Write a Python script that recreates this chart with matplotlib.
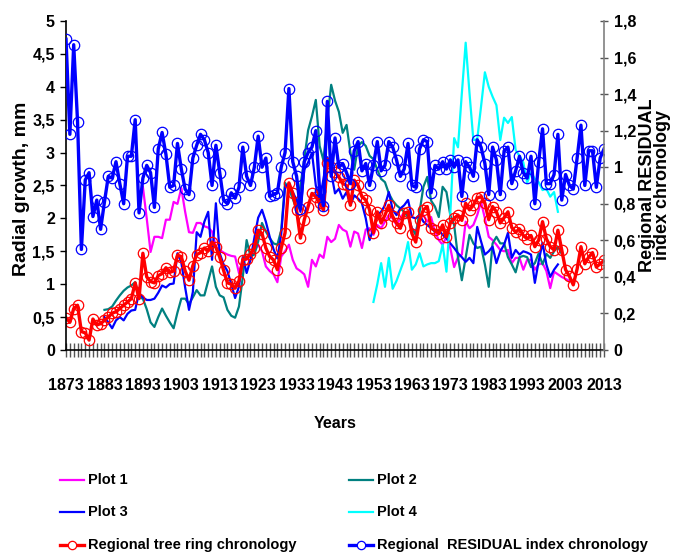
import numpy as np
import matplotlib
matplotlib.use('Agg')
import matplotlib.pyplot as plt
from matplotlib.lines import Line2D

# Years on the category axis
years = np.arange(1873, 2014)
first_year = 1873

# Regional RESIDUAL index chronology (right axis), 1873-2013
residual = [
    1.70, 1.18, 1.67, 1.25, 0.55, 0.93, 0.97, 0.73, 0.82, 0.66,  # 1873
    0.81, 0.95, 0.94, 1.03, 0.91, 0.80, 1.06, 1.06, 1.26, 0.75,  # 1883
    0.94, 1.01, 0.97, 0.78, 1.10, 1.19, 1.07, 0.89, 0.90, 1.13,  # 1893
    0.99, 0.88, 0.85, 1.05, 1.12, 1.18, 1.15, 1.08, 0.90, 1.12,  # 1903
    0.97, 0.82, 0.80, 0.86, 0.83, 0.89, 1.11, 0.95, 0.90, 1.00,  # 1913
    1.17, 1.00, 1.05, 0.84, 0.85, 0.86, 1.00, 1.08, 1.43, 1.03,  # 1923
    0.95, 0.77, 1.03, 1.08, 1.11, 1.20, 0.87, 0.79, 1.36, 0.95,  # 1933
    1.16, 1.00, 1.02, 0.97, 0.91, 1.09, 1.14, 0.98, 1.02, 0.90,  # 1943
    1.01, 1.14, 0.98, 1.01, 1.14, 1.11, 1.04, 0.95, 0.99, 1.13,  # 1953
    0.90, 0.89, 1.10, 1.15, 1.14, 0.86, 1.01, 0.99, 1.03, 0.99,  # 1963
    1.04, 1.00, 1.04, 0.84, 1.03, 1.00, 0.95, 1.15, 1.11, 1.02,  # 1973
    0.85, 1.11, 1.04, 0.85, 1.09, 1.11, 0.91, 0.98, 1.06, 0.97,  # 1983
    0.94, 1.06, 0.80, 1.03, 1.21, 0.91, 0.91, 0.96, 1.18, 0.82,  # 1993
    0.96, 0.90, 0.88, 1.05, 1.23, 0.90, 1.09, 1.09, 0.89, 1.05,  # 2003
    1.10,                                                        # 2013
]

# Regional tree ring chronology (left axis), 1873-2013
chronology = [
    0.49, 0.42, 0.63, 0.68, 0.28, 0.26, 0.15, 0.47, 0.38, 0.40,  # 1873
    0.45, 0.50, 0.56, 0.58, 0.63, 0.68, 0.73, 0.78, 1.02, 0.78,  # 1883
    1.47, 1.11, 1.04, 1.02, 1.13, 1.16, 1.25, 1.18, 1.20, 1.44,  # 1893
    1.42, 1.20, 1.06, 1.28, 1.45, 1.48, 1.55, 1.51, 1.64, 1.56,  # 1903
    1.41, 1.21, 1.02, 1.00, 0.94, 1.05, 1.37, 1.39, 1.46, 1.55,  # 1913
    1.82, 1.77, 1.55, 1.42, 1.37, 1.22, 1.55, 1.78, 2.54, 2.38,  # 1923
    2.12, 1.70, 1.98, 2.18, 2.38, 2.33, 2.23, 2.13, 2.84, 2.78,  # 1933
    2.70, 2.63, 2.53, 2.50, 2.20, 2.58, 2.50, 2.33, 2.28, 2.13,  # 1943
    1.78, 2.10, 1.93, 2.05, 2.20, 2.03, 1.93, 1.85, 2.08, 2.10,  # 1953
    1.77, 1.64, 1.97, 2.13, 2.18, 1.85, 1.82, 1.77, 1.90, 1.72,  # 1963
    1.93, 2.00, 2.05, 1.97, 2.23, 2.13, 2.20, 2.31, 2.33, 2.23,  # 1973
    1.98, 2.18, 2.10, 1.93, 2.01, 2.10, 1.86, 1.79, 1.84, 1.74,  # 1983
    1.69, 1.74, 1.57, 1.67, 1.95, 1.69, 1.57, 1.52, 1.82, 1.52,  # 1993
    1.22, 1.12, 0.99, 1.23, 1.57, 1.31, 1.41, 1.48, 1.26, 1.31,  # 2003
    1.36,                                                        # 2013
]

# Plot 1, 1893-2004
plot1_start = 1893
plot1 = [
    2.48, 2.00, 1.49, 1.72, 1.72, 1.70, 1.98, 1.98, 2.25, 2.22,  # 1893
    2.46, 2.10, 1.79, 1.78, 1.93, 1.93, 1.88, 1.86, 1.80, 1.57,  # 1903
    1.52, 1.48, 1.45, 1.43, 1.42, 1.17, 1.37, 1.37, 1.45, 1.50,  # 1913
    1.60, 1.50, 1.27, 1.20, 1.15, 1.03, 1.42, 1.50, 1.60, 1.37,  # 1923
    1.24, 1.20, 1.15, 0.96, 1.37, 1.27, 1.45, 1.40, 1.72, 1.64,  # 1933
    1.69, 1.90, 1.83, 1.80, 1.57, 1.80, 1.77, 1.55, 1.83, 1.85,  # 1943
    1.75, 1.90, 1.85, 1.95, 2.05, 2.00, 1.90, 2.00, 2.10, 2.05,  # 1953
    1.85, 1.80, 2.00, 2.05, 1.95, 2.02, 1.80, 1.67, 1.60, 1.72,  # 1963
    1.55, 1.26, 1.41, 1.45, 1.95, 1.85, 1.90, 2.05, 2.25, 2.00,  # 1973
    1.72, 1.67, 1.60, 1.52, 1.50, 1.52, 1.32, 1.40, 1.40, 1.22,  # 1983
    1.37, 1.37, 1.22, 1.30, 1.32, 1.20, 0.94, 1.19, 1.15, 1.11,  # 1993
    1.08, 1.05,                                                  # 2003
]

# Plot 2, 1883-2002
plot2_start = 1883
plot2 = [
    0.61, 0.62, 0.66, 0.75, 0.83, 0.90, 0.95, 0.98, 1.03, 0.80,  # 1883
    0.78, 0.62, 0.42, 0.35, 0.50, 0.63, 0.52, 0.42, 0.33, 0.57,  # 1893
    0.78, 0.78, 0.70, 0.80, 0.91, 0.83, 0.83, 1.05, 1.27, 0.96,  # 1903
    0.83, 0.80, 0.61, 0.52, 0.49, 0.66, 1.11, 1.67, 1.42, 1.45,  # 1913
    1.65, 1.93, 1.80, 1.70, 1.62, 1.60, 1.82, 2.54, 2.45, 2.30,  # 1923
    2.13, 2.50, 2.90, 3.34, 3.55, 3.80, 3.10, 2.88, 3.50, 4.03,  # 1933
    3.79, 3.62, 3.30, 3.42, 3.00, 2.74, 3.10, 3.16, 3.10, 2.95,  # 1943
    2.90, 2.74, 2.60, 2.55, 2.38, 2.27, 2.20, 2.15, 2.10, 2.02,  # 1953
    1.85, 1.75, 2.10, 2.48, 2.63, 2.27, 2.18, 2.02, 2.48, 2.40,  # 1963
    2.05, 1.90, 1.41, 1.06, 1.41, 1.75, 1.62, 1.55, 1.57, 1.30,  # 1973
    0.96, 1.62, 1.72, 1.62, 1.62, 1.41, 1.30, 1.18, 1.41, 1.43,  # 1983
    1.41, 1.26, 1.32, 1.47, 1.30, 1.46, 1.40, 1.50, 1.57, 1.46,  # 1993
]

# Plot 3, 1883-2001
plot3_start = 1883
plot3 = [
    0.50, 0.42, 0.33, 0.45, 0.50, 0.45, 0.55, 0.60, 0.61, 0.87,  # 1883
    0.80, 0.76, 0.76, 0.78, 0.87, 0.98, 0.95, 1.00, 1.01, 1.47,  # 1893
    1.33, 0.95, 0.61, 0.88, 1.79, 1.72, 1.95, 2.10, 1.37, 2.23,  # 1903
    1.47, 1.30, 1.20, 1.00, 0.79, 0.96, 1.41, 1.17, 1.37, 1.70,  # 1913
    2.01, 2.13, 1.95, 1.72, 1.53, 1.39, 1.76, 2.48, 2.53, 2.40,  # 1923
    2.28, 2.10, 2.74, 2.85, 3.00, 2.50, 2.28, 2.60, 2.93, 2.70,  # 1933
    2.38, 2.45, 2.30, 2.40, 2.20, 2.35, 2.30, 2.23, 2.00, 1.67,  # 1943
    1.85, 2.05, 2.10, 2.20, 2.40, 2.13, 2.05, 2.15, 2.20, 2.28,  # 1953
    2.02, 2.00, 2.05, 1.95, 1.90, 1.85, 1.80, 1.82, 1.75, 1.70,  # 1963
    1.62, 1.55, 1.47, 1.41, 1.34, 1.40, 1.32, 1.87, 1.65, 1.45,  # 1973
    1.50, 1.57, 1.32, 1.50, 1.60, 1.78, 1.40, 1.52, 1.45, 1.50,  # 1983
    1.48, 1.45, 1.02, 1.35, 1.63, 1.30, 1.11, 1.22, 1.30,        # 1993
]

# Plot 4, 1953-2001
plot4_start = 1953
plot4 = [
    0.73, 1.00, 1.32, 0.96, 1.40, 0.93, 1.05, 1.21, 1.37, 1.64,  # 1953
    1.22, 1.30, 1.47, 1.27, 1.30, 1.32, 1.32, 1.35, 1.60, 1.19,  # 1963
    2.08, 3.22, 3.08, 3.90, 4.67, 3.90, 3.19, 3.20, 3.70, 4.22,  # 1973
    4.00, 3.85, 3.72, 3.19, 3.53, 3.45, 3.54, 3.04, 2.95, 2.85,  # 1983
    2.54, 2.70, 2.60, 2.55, 2.43, 2.45, 2.33, 2.40, 2.10,        # 1993
]

left_ticks = [0, 0.5, 1, 1.5, 2, 2.5, 3, 3.5, 4, 4.5, 5]
right_ticks = [0, 0.2, 0.4, 0.6, 0.8, 1.0, 1.2, 1.4, 1.6, 1.8]
year_ticks = np.arange(1873, 2014, 10)


def pad(start, values):
    """Place a partial series on the full year axis."""
    out = np.full(len(years), np.nan)
    i = start - first_year
    out[i:i + len(values)] = values
    return out


def comma(v):
    return f"{v:g}".replace('.', ',')


plt.rcParams['font.family'] = ['Liberation Sans', 'DejaVu Sans']
plt.rcParams['font.weight'] = 'bold'

fig = plt.figure(figsize=(6.73, 5.55), dpi=100)
ax = fig.add_axes([0.0981, 0.3694, 0.7994, 0.5928])
ax2 = ax.twinx()

l1, = ax.plot(years, pad(plot1_start, plot1), color='#FF00FF', lw=1.6)
l2, = ax.plot(years, pad(plot2_start, plot2), color='#008080', lw=1.6)
l3, = ax.plot(years, pad(plot3_start, plot3), color='#0000FF', lw=1.6)
l4, = ax.plot(years, pad(plot4_start, plot4), color='#00FFFF', lw=1.6)
lr, = ax.plot(years, chronology, color='#FF0000', lw=2.4, marker='o', ms=7.5,
              mfc='none', mec='#FF0000', mew=0.9)
lb, = ax2.plot(years, residual, color='#0000FF', lw=2.4, marker='o', ms=7.5,
               mfc='none', mec='#0000FF', mew=0.9)

ax.set_xlim(1873, 2013)
ax.set_ylim(0, 5)
ax2.set_ylim(0, 1.8)

ax.set_yticks(left_ticks)
ax.set_yticklabels([comma(v) for v in left_ticks])
ax2.set_yticks(right_ticks)
ax2.set_yticklabels([comma(v) for v in right_ticks])
ax.set_xticks(year_ticks)
ax.set_xticklabels([str(y) for y in year_ticks])
ax.set_xticks(years, minor=True)

for a in (ax, ax2):
    a.spines['top'].set_visible(False)
ax.spines['right'].set_visible(False)
ax2.spines['left'].set_visible(False)
ax2.spines['bottom'].set_visible(False)
ax2.spines['right'].set_color('#808080')
ax2.spines['right'].set_linewidth(1.2)
ax.spines['left'].set_linewidth(1.2)
ax.spines['bottom'].set_linewidth(1.2)

ax.tick_params(axis='x', which='both', direction='inout', length=10, width=1.0,
               color='#555555', pad=15, labelsize=11.5)
ax.tick_params(axis='y', direction='out', length=4, width=1.0, pad=4, labelsize=11.5)
ax2.tick_params(axis='y', direction='inout', length=6, width=1.0, color='#555555',
                pad=4, labelsize=11.5)

fig.text(22 / 673, 1 - 189 / 555, 'Radial growth, mm', rotation=90, ha='center',
         va='center', fontsize=14)
fig.text(655 / 673, 1 - 185 / 555, 'Regional RESIDUAL\nindex chronology', rotation=90,
         ha='center', va='center', fontsize=13, linespacing=0.9)
fig.text(335 / 673, 1 - 423 / 555, 'Years', ha='center', va='center', fontsize=11.5)

# legend drawn by hand, two columns
entries = [
    (l1, 'Plot 1', 60, 480), (l2, 'Plot 2', 349, 480),
    (l3, 'Plot 3', 60, 512), (l4, 'Plot 4', 349, 512),
    (lr, 'Regional tree ring chronology', 60, 545),
    (lb, 'Regional  RESIDUAL index chronology', 349, 545),
]
for line, text, x0, y0 in entries:
    yy = 1 - y0 / 555
    fig.add_artist(Line2D([x0 / 673, (x0 + 24) / 673], [yy, yy], transform=fig.transFigure,
                          color=line.get_color(), lw=line.get_linewidth()))
    if line.get_marker() not in (None, 'None', ''):
        fig.add_artist(Line2D([(x0 + 12) / 673], [yy], transform=fig.transFigure,
                              marker='o', ms=6, mfc='white', mec=line.get_color(),
                              mew=0.9, lw=0))
    fig.text((x0 + 28) / 673, yy, text, ha='left', va='center', fontsize=10.5)

fig.savefig('out.png', dpi=100)
